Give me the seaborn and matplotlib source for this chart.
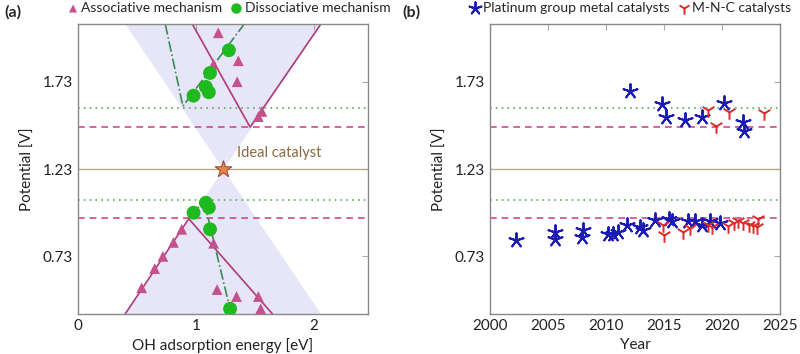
import numpy as np
import pandas as pd
import matplotlib
matplotlib.use("Agg")
import matplotlib.pyplot as plt
import seaborn as sns

# ---- panel (a) data ----
assoc_x = [1.19, 1.15, 1.36, 1.35, 1.56, 1.53,
           0.88, 0.81, 0.72, 0.65, 0.54, 1.15, 1.18, 1.345, 1.53, 1.55]
assoc_y = [2.01, 1.83, 1.85, 1.73, 1.56, 1.53,
           0.885, 0.81, 0.73, 0.66, 0.55, 0.805, 0.54, 0.50, 0.50, 0.43]
dissoc_x = [1.28, 1.12, 1.085, 1.11, 0.98,
            1.085, 1.11, 0.98, 1.12, 1.29]
dissoc_y = [1.91, 1.78, 1.70, 1.67, 1.65,
            1.037, 1.01, 0.98, 0.885, 0.43]

# volcano lines (vertices)
assoc_up_x = [0.97, 1.46, 2.06]
assoc_up_y = [2.06, 1.47, 2.06]
assoc_lo_x = [0.40, 0.94, 1.65]
assoc_lo_y = [0.40, 0.945, 0.40]
dissoc_up_x = [0.74, 0.89, 1.41]
dissoc_up_y = [2.06, 1.59, 2.06]
dissoc_lo_x = [0.96, 1.07, 1.30]
dissoc_lo_y = [0.97, 1.045, 0.40]

# shaded region vertices
shade_x = [0.40, 1.23, 2.06]
shade_mid = [2.06, 1.23, 2.06]
shade_mid_lo = [0.40, 1.23, 0.40]

ideal = (1.23, 1.23)

# reference potentials
h_green = [1.58, 1.05]
h_pink = [1.47, 0.95]
h_ideal = 1.23

# ---- panel (b) data ----
pgm_year = [2002.2, 2005.6, 2005.6, 2008.0, 2007.9, 2010.2, 2010.6, 2011.0,
            2011.8, 2012.9, 2013.2, 2014.2, 2015.4, 2015.7, 2017.1, 2017.7,
            2018.3, 2019.0, 2019.8,
            2012.1, 2014.8, 2015.2, 2016.8, 2018.3, 2020.2, 2021.8, 2021.9]
pgm_v = [0.824, 0.87, 0.83, 0.88, 0.84, 0.857, 0.86, 0.87,
         0.91, 0.90, 0.88, 0.94, 0.945, 0.935, 0.93, 0.93,
         0.91, 0.93, 0.92,
         1.675, 1.60, 1.53, 1.51, 1.53, 1.61, 1.50, 1.45]
mnc_year = [2014.9, 2015.0, 2016.6, 2017.2, 2018.8, 2019.1, 2020.5, 2021.0,
            2021.4, 2021.8, 2022.3, 2022.7, 2023.0, 2023.1,
            2018.8, 2019.5, 2020.6, 2023.6]
mnc_v = [0.91, 0.85, 0.87, 0.89, 0.91, 0.90, 0.905, 0.92,
         0.93, 0.92, 0.91, 0.905, 0.90, 0.945,
         1.57, 1.475, 1.555, 1.55]

yticks = [0.73, 1.23, 1.73]
ylim = (0.40, 2.06)

c_assoc = "#c4508c"
c_assoc_line = "#b03a7a"
c_green = "#1fba1f"
c_green_line = "#3a8a55"
c_dot = "#5aaa5a"
c_dash = "#d04a8c"
c_ideal = "#b8a890"
c_shade = "#e6e6f8"
c_pgm = "#1a1ab4"
c_mnc = "#dd2a2a"

sns.set_style("white")
plt.rcParams["font.family"] = ["Lato", "DejaVu Sans"]

fig = plt.figure(figsize=(8, 3.54), dpi=100)
ax1 = fig.add_axes([0.0975, 0.113, 0.3625, 0.819])
ax2 = fig.add_axes([0.6125, 0.113, 0.3625, 0.819])


def ref_lines(ax):
    for h in h_green:
        ax.axhline(h, color=c_dot, ls=(0, (1, 2.5)), lw=1.2, zorder=1)
    for h in h_pink:
        ax.axhline(h, color=c_dash, ls=(0, (4, 3)), lw=1.2, zorder=1)
    ax.axhline(h_ideal, color=c_ideal, lw=1.0, zorder=1)


def style(ax):
    ax.set_ylim(*ylim)
    ax.set_yticks(yticks)
    ax.set_yticklabels([f"{t:.2f}" for t in yticks])
    ax.tick_params(direction="in", length=4, color="#aaaaaa", labelsize=11,
                   top=True, right=True, labelcolor="#222222")
    for s in ax.spines.values():
        s.set_color("#888888")
        s.set_linewidth(1.0)
    ax.set_ylabel("Potential [V]", fontsize=11, color="#222222", labelpad=6)


def legend(ax, x0, scale):
    ax.legend(loc="center left", bbox_to_anchor=(x0, 0.977),
              bbox_transform=fig.transFigure, ncol=2, frameon=False,
              fontsize=10, handletextpad=0.2, columnspacing=0.6, borderpad=0,
              handlelength=0.8, borderaxespad=0, markerscale=scale)


# ---- panel (a) ----
ax1.fill_between(shade_x, shade_mid, ylim[1], color=c_shade, lw=0, zorder=0)
ax1.fill_between(shade_x, ylim[0], shade_mid_lo, color=c_shade, lw=0, zorder=0)
ref_lines(ax1)
ax1.plot(assoc_up_x, assoc_up_y, color=c_assoc_line, lw=1.2, zorder=2)
ax1.plot(assoc_lo_x, assoc_lo_y, color=c_assoc_line, lw=1.2, zorder=2)
ax1.plot(dissoc_up_x, dissoc_up_y, color=c_green_line, lw=1.2, ls="-.", zorder=2)
ax1.plot(dissoc_lo_x, dissoc_lo_y, color=c_green_line, lw=1.2, ls="-.", zorder=2)

sns.scatterplot(x=assoc_x, y=assoc_y, ax=ax1, marker="^", color=c_assoc,
                s=60, edgecolor="none", label="Associative mechanism", zorder=3)
sns.scatterplot(x=dissoc_x, y=dissoc_y, ax=ax1, marker="o", color=c_green,
                s=100, edgecolor="none", label="Dissociative mechanism", zorder=3)
ax1.scatter([ideal[0]], [ideal[1]], marker="*", s=160, color="#f0804a",
            edgecolor="#8a4a2a", linewidth=0.7, zorder=4)
ax1.text(1.35, 1.30, "Ideal catalyst", color="#8a6a40", fontsize=10.5)

ax1.set_xlim(0, 2.46)
ax1.set_xticks([0, 1, 2])
ax1.set_xlabel("OH adsorption energy [eV]", fontsize=11, color="#222222")
style(ax1)
legend(ax1, 0.0844, 0.75)

# ---- panel (b) ----
ref_lines(ax2)
sns.scatterplot(x=pgm_year, y=pgm_v, ax=ax2, marker=(5, 2, 0), color=c_pgm,
                s=110, linewidth=1.4, label="Platinum group metal catalysts", zorder=3)
sns.scatterplot(x=mnc_year, y=mnc_v, ax=ax2, marker="1", color=c_mnc,
                s=110, linewidth=1.4, label="M-N-C catalysts", zorder=3)
ax2.set_xlim(2000, 2025)
ax2.set_xticks([2000, 2005, 2010, 2015, 2020, 2025])
ax2.set_xlabel("Year", fontsize=11, color="#222222")
style(ax2)
legend(ax2, 0.587, 0.85)

fig.text(0.006, 0.965, "(a)", fontsize=11.5, fontweight="bold", va="center")
fig.text(0.503, 0.965, "(b)", fontsize=11.5, fontweight="bold", va="center")

fig.savefig("out.png", dpi=100)
